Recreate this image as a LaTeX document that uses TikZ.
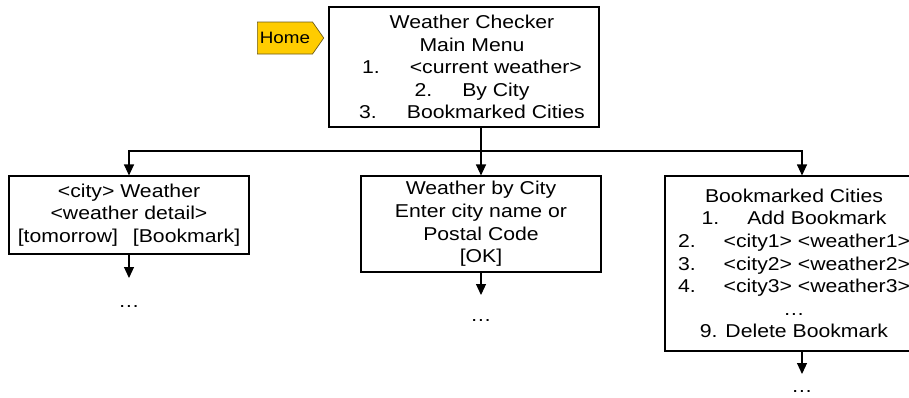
\documentclass[tikz,border=0pt]{standalone}
\usepackage{fontspec}
\setmainfont[FakeStretch=1.14]{Liberation Sans}
\usetikzlibrary{arrows.meta,shapes.symbols}
\definecolor{homeGold}{HTML}{FFCC00}
\definecolor{homeEdge}{HTML}{6B5A1A}

\tikzset{
  screen/.style={draw, line width=1.1pt, fill=white, inner sep=0pt, align=center,
    font=\fontsize{18.6pt}{22.6pt}\selectfont},
  flow/.style={line width=1.1pt, -{Triangle[width=10pt,length=11pt]}},
  more/.style={anchor=base, inner sep=0pt, font=\fontsize{18.6pt}{22.6pt}\selectfont},
}

\begin{document}
\begin{tikzpicture}[x=1pt,y=-1pt]
  \clip (0,0) rectangle (909,397);
  % main menu screen
  \node[screen, minimum width=270pt, minimum height=120pt] (menu) at (464,67) {};
  \node[screen, draw=none, fill=none] (menutext) at (472,67)
    {Weather Checker\\Main Menu\\1.\hspace{30pt}<current weather>\\
     2.\hspace{30pt}By City\\3.\hspace{30pt}Bookmarked Cities};
  \node[shape=signal, signal to=east, signal pointer angle=110, draw=homeEdge, fill=homeGold,
    line width=0.7pt, minimum height=32pt, inner xsep=2.5pt, inner ysep=0pt, anchor=west,
    font=\fontsize{16.5pt}{18pt}\selectfont] (home) at (257,38) {Home};

  % second level screens
  \node[screen, minimum width=240pt, minimum height=78pt] (city) at (129,215)
    {<city> Weather\\<weather detail>\\{}[tomorrow]\hspace{15pt}[Bookmark]};
  \node[screen, minimum width=240pt, minimum height=96pt] (byc) at (481,224)
    {Weather by City\\Enter city name or\\Postal Code\\{}[OK]};
  \node[screen, minimum width=258pt, minimum height=175pt] (bmk) at (794,263.5)
    {Bookmarked Cities\\1.\hspace{28pt}Add Bookmark\\2.\hspace{28pt}<city1> <weather1>\\
     3.\hspace{28pt}<city2> <weather2>\\4.\hspace{28pt}<city3> <weather3>\\\dots\\
     9. Delete Bookmark};

  % menu -> screens
  \coordinate (bus) at (481,151);
  \draw[line width=1.1pt] (menu.south -| bus) -- (bus);
  \draw[flow] (bus) -| (city.north);
  \draw[flow] (bus) -- (byc.north);
  \draw[flow] (bus) -| ([xshift=8pt]bmk.north);

  % screens -> further screens
  \coordinate (cityout) at (129,278);
  \coordinate (bycout) at (481,295);
  \coordinate (bmkout) at (802,374);
  \draw[flow] (city.south) -- (cityout);
  \draw[flow] (byc.south) -- (bycout);
  \draw[flow] ([xshift=8pt]bmk.south) -- (bmkout);
  \node[more] (citymore) at (129,307) {\dots};
  \node[more] (bycmore) at (481,321) {\dots};
  \node[more] (bmkmore) at (802,392) {\dots};
\end{tikzpicture}
\end{document}
